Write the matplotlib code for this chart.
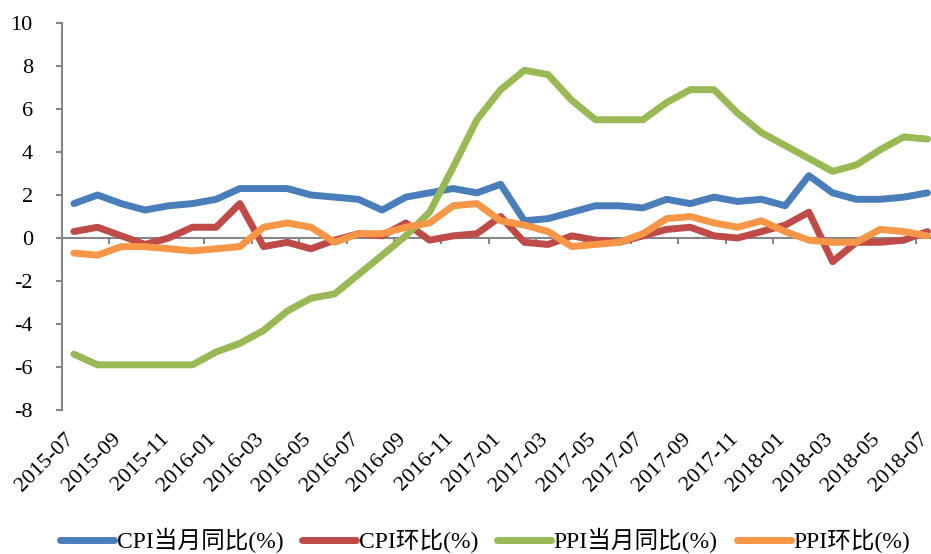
import matplotlib
matplotlib.use("Agg")
import matplotlib.pyplot as plt
import numpy as np

plt.rcParams['font.family'] = ['Liberation Serif', 'Noto Sans CJK SC', 'DejaVu Sans']
plt.rcParams['axes.unicode_minus'] = False

months = ["2015-07", "2015-08", "2015-09", "2015-10", "2015-11", "2015-12",
          "2016-01", "2016-02", "2016-03", "2016-04", "2016-05", "2016-06",
          "2016-07", "2016-08", "2016-09", "2016-10", "2016-11", "2016-12",
          "2017-01", "2017-02", "2017-03", "2017-04", "2017-05", "2017-06",
          "2017-07", "2017-08", "2017-09", "2017-10", "2017-11", "2017-12",
          "2018-01", "2018-02", "2018-03", "2018-04", "2018-05", "2018-06",
          "2018-07"]

cpi_yoy = [1.6, 2.0, 1.6, 1.3, 1.5, 1.6, 1.8, 2.3, 2.3, 2.3, 2.0, 1.9,
           1.8, 1.3, 1.9, 2.1, 2.3, 2.1, 2.5, 0.8, 0.9, 1.2, 1.5, 1.5,
           1.4, 1.8, 1.6, 1.9, 1.7, 1.8, 1.5, 2.9, 2.1, 1.8, 1.8, 1.9, 2.1]
cpi_mom = [0.3, 0.5, 0.1, -0.3, 0.0, 0.5, 0.5, 1.6, -0.4, -0.2, -0.5, -0.1,
           0.2, 0.1, 0.7, -0.1, 0.1, 0.2, 1.0, -0.2, -0.3, 0.1, -0.1, -0.2,
           0.1, 0.4, 0.5, 0.1, 0.0, 0.3, 0.6, 1.2, -1.1, -0.2, -0.2, -0.1, 0.3]
ppi_yoy = [-5.4, -5.9, -5.9, -5.9, -5.9, -5.9, -5.3, -4.9, -4.3, -3.4, -2.8, -2.6,
           -1.7, -0.8, 0.1, 1.2, 3.3, 5.5, 6.9, 7.8, 7.6, 6.4, 5.5, 5.5,
           5.5, 6.3, 6.9, 6.9, 5.8, 4.9, 4.3, 3.7, 3.1, 3.4, 4.1, 4.7, 4.6]
ppi_mom = [-0.7, -0.8, -0.4, -0.4, -0.5, -0.6, -0.5, -0.4, 0.5, 0.7, 0.5, -0.2,
           0.2, 0.2, 0.5, 0.7, 1.5, 1.6, 0.8, 0.6, 0.3, -0.4, -0.3, -0.2,
           0.2, 0.9, 1.0, 0.7, 0.5, 0.8, 0.3, -0.1, -0.2, -0.2, 0.4, 0.3, 0.1]

series = [
    ("CPI当月同比(%)", cpi_yoy, "#4A7EBB"),
    ("CPI环比(%)", cpi_mom, "#BE4B48"),
    ("PPI当月同比(%)", ppi_yoy, "#98B954"),
    ("PPI环比(%)", ppi_mom, "#F79646"),
]

fig = plt.figure(figsize=(9.31, 5.54), dpi=100)
ax = fig.add_axes([0.0666, 0.2599, 1.0 - 0.0666, 0.9585 - 0.2599])

x = np.arange(len(months))
for name, vals, col in series:
    ax.plot(x, vals, color=col, lw=5, label=name,
            solid_capstyle='round', solid_joinstyle='round')

ax.set_xlim(-0.5, 36.15)
ax.set_ylim(-8, 10)
ax.set_yticks(np.arange(-8, 11, 2))

gray = "#868686"
for s in ['top', 'right']:
    ax.spines[s].set_visible(False)
ax.spines['left'].set_color(gray)
ax.spines['left'].set_linewidth(1.5)
ax.spines['bottom'].set_position(('data', 0))
ax.spines['bottom'].set_color(gray)
ax.spines['bottom'].set_linewidth(1.5)
ax.spines['bottom'].set_zorder(0)

ax.set_xticks(np.arange(-0.5, 36.2, 2))
ax.tick_params(axis='x', labelbottom=False, direction='out', length=4,
               width=1.5, color=gray)
ax.tick_params(axis='y', direction='out', length=4, width=1.5, color=gray,
               pad=17, labelsize=16)

for i in range(0, len(months), 2):
    ax.annotate(months[i], xy=(i, 0), xycoords=('data', 'axes fraction'),
                xytext=(3, -14), textcoords='offset points',
                rotation=45, ha='right', va='top', fontsize=16)

fig.legend(loc='center', bbox_to_anchor=(0.521, 0.024), ncol=4, frameon=False,
           fontsize=17, handlelength=2.3, handletextpad=0.1, columnspacing=0.8)

fig.savefig("out.png", dpi=100)
